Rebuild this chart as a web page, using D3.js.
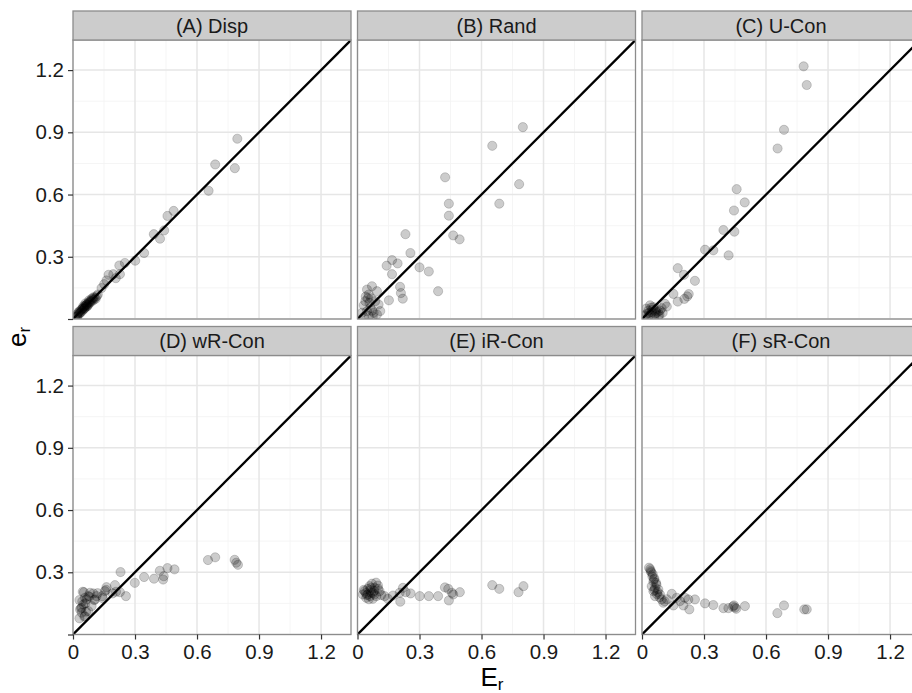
<!DOCTYPE html>
<html><head><meta charset="utf-8">
<script src="https://cdn.jsdelivr.net/npm/d3@7"></script>
<style>body{margin:0;background:#fff}svg{display:block}text{font-family:"Liberation Sans",Arial,sans-serif}</style>
</head><body><div id="chart"></div>
<script>
const panelTitles = ["(A) Disp","(B) Rand","(C) U-Con","(D) wR-Con","(E) iR-Con","(F) sR-Con"];
const majorTicks = [0, 0.3, 0.6, 0.9, 1.2];
const minorTicks = [0.15, 0.45, 0.75, 1.05];
const xTickLabels = ["0","0.3","0.6","0.9","1.2"];
const yTickLabels = ["","0.3","0.6","0.9","1.2"];

// [E_r, e_r]
const dispPoints = [[0.795,0.869],[0.688,0.745],[0.783,0.727],[0.656,0.618],[0.487,0.521],[0.457,0.497],[0.391,0.409],[0.441,0.427],[0.421,0.387],[0.344,0.318],[0.301,0.281],[0.251,0.270],[0.224,0.258],[0.227,0.216],[0.195,0.216],[0.207,0.197],[0.172,0.213],[0.162,0.186],[0.151,0.168],[0.138,0.149],
[0.012,0.010],[0.018,0.020],[0.022,0.015],[0.025,0.028],[0.030,0.025],[0.033,0.036],[0.038,0.032],[0.040,0.045],[0.045,0.040],[0.048,0.052],[0.052,0.047],[0.055,0.060],[0.058,0.055],[0.062,0.066],[0.065,0.060],[0.068,0.072],[0.072,0.068],[0.075,0.080],[0.080,0.076],[0.085,0.088],[0.090,0.084],[0.095,0.095],[0.100,0.092],[0.105,0.102],[0.110,0.098],[0.060,0.075],[0.050,0.062],[0.078,0.090],[0.115,0.110],[0.120,0.118],
[0.035,0.030],[0.045,0.050],[0.055,0.050],[0.065,0.068],[0.070,0.062],[0.082,0.082],[0.092,0.100],[0.100,0.105],[0.028,0.035],[0.020,0.012]];
const randPoints = [[0.800,0.925],[0.652,0.835],[0.782,0.650],[0.424,0.683],[0.686,0.556],[0.442,0.556],[0.442,0.498],[0.463,0.403],[0.494,0.384],[0.232,0.409],[0.256,0.318],[0.167,0.284],[0.141,0.257],[0.194,0.268],[0.167,0.216],[0.300,0.249],[0.345,0.229],[0.390,0.134],[0.206,0.155],[0.210,0.125],[0.219,0.098],[0.152,0.090],
[0.070,0.158],[0.046,0.142],[0.094,0.134],[0.054,0.118],[0.038,0.086],[0.086,0.086],[0.102,0.070],[0.062,0.054],[0.046,0.038],[0.078,0.030],[0.094,0.022],[0.054,0.014],[0.110,0.038],[0.022,0.030],[0.030,0.066],[0.066,0.100],[0.040,0.108],[0.074,0.012],[0.030,0.010],[0.058,0.078],[0.050,0.100],[0.070,0.040]];
const uconPoints = [[0.782,1.218],[0.797,1.128],[0.687,0.912],[0.656,0.822],[0.458,0.626],[0.497,0.562],[0.445,0.523],[0.394,0.429],[0.447,0.421],[0.305,0.334],[0.345,0.331],[0.419,0.307],[0.173,0.245],[0.203,0.213],[0.256,0.184],[0.152,0.121],[0.173,0.084],[0.205,0.097],[0.226,0.120],[0.219,0.109],
[0.039,0.066],[0.055,0.057],[0.071,0.049],[0.087,0.041],[0.031,0.041],[0.047,0.033],[0.063,0.025],[0.079,0.036],[0.023,0.025],[0.095,0.052],[0.111,0.073],[0.015,0.017],[0.040,0.020],[0.060,0.012],[0.085,0.020],[0.100,0.030],[0.030,0.012],[0.050,0.045],[0.070,0.030],[0.120,0.060],[0.020,0.050],[0.045,0.055],[0.065,0.040],[0.080,0.015],[0.035,0.030]];
const wrconPoints = [[0.653,0.359],[0.688,0.372],[0.782,0.360],[0.798,0.336],[0.790,0.346],[0.491,0.314],[0.457,0.320],[0.420,0.307],[0.439,0.281],[0.436,0.265],[0.392,0.269],[0.344,0.277],[0.299,0.249],[0.230,0.301],[0.203,0.238],[0.227,0.204],[0.256,0.185],[0.191,0.198],[0.162,0.228],[0.154,0.209],[0.142,0.185],
[0.047,0.206],[0.031,0.166],[0.079,0.182],[0.103,0.166],[0.039,0.126],[0.063,0.110],[0.031,0.078],[0.055,0.086],[0.119,0.199],[0.160,0.215],[0.208,0.206],[0.144,0.175],[0.053,0.204],[0.082,0.201],[0.098,0.198],[0.066,0.169],[0.050,0.145],[0.034,0.121],[0.042,0.105],[0.058,0.088],[0.074,0.113],[0.090,0.137],[0.114,0.185],[0.042,0.129],[0.058,0.177],[0.106,0.169],[0.074,0.185],[0.060,0.150],[0.045,0.160]];
const irconPoints = [[0.652,0.238],[0.686,0.220],[0.803,0.233],[0.779,0.204],[0.495,0.204],[0.457,0.201],[0.439,0.220],[0.423,0.227],[0.463,0.193],[0.442,0.164],[0.390,0.185],[0.345,0.185],[0.301,0.185],[0.257,0.198],[0.220,0.225],[0.204,0.201],[0.207,0.158],[0.172,0.188],[0.147,0.172],[0.131,0.185],[0.233,0.204],
[0.034,0.209],[0.050,0.193],[0.066,0.201],[0.083,0.225],[0.099,0.236],[0.058,0.233],[0.042,0.177],[0.074,0.172],[0.091,0.185],[0.026,0.193],[0.062,0.214],[0.107,0.209],[0.083,0.193],[0.050,0.220],[0.070,0.245],[0.090,0.250],[0.040,0.200],[0.060,0.185],[0.080,0.210],[0.100,0.220],[0.055,0.170],[0.030,0.215],[0.115,0.190],[0.045,0.190],[0.065,0.225],[0.075,0.200]];
const srconPoints = [[0.034,0.322],[0.042,0.306],[0.052,0.290],[0.058,0.265],[0.068,0.249],[0.047,0.233],[0.063,0.225],[0.079,0.217],[0.055,0.209],[0.087,0.193],[0.095,0.169],[0.103,0.153],[0.063,0.185],[0.144,0.196],[0.168,0.177],[0.152,0.140],[0.184,0.161],[0.208,0.177],[0.224,0.169],[0.256,0.169],[0.200,0.140],[0.229,0.121],[0.305,0.150],[0.345,0.142],[0.394,0.127],[0.418,0.127],[0.445,0.140],[0.456,0.124],[0.498,0.137],[0.687,0.140],[0.655,0.103],[0.785,0.121],[0.797,0.121],
[0.040,0.315],[0.045,0.300],[0.050,0.280],[0.060,0.270],[0.055,0.255],[0.070,0.240],[0.060,0.215],[0.075,0.205],[0.085,0.180],[0.110,0.160],[0.072,0.195],[0.120,0.170],[0.440,0.135],[0.450,0.130]];

const panelData = [dispPoints, randPoints, uconPoints, wrconPoints, irconPoints, srconPoints];

const W = 912, H = 693;
const colX = [73, 357.5, 642];
const stripTop = [11, 326.5];
const stripH = 29, pw = 278, ph = 279;
const maxV = 1.345;

const svg = d3.select("#chart").append("svg").attr("width", W).attr("height", H);
const x = d3.scaleLinear().domain([0, maxV]).range([0, pw]);
const y = d3.scaleLinear().domain([0, maxV]).range([ph, 0]);

svg.append("defs").append("clipPath").attr("id","pclip")
  .append("rect").attr("x",0).attr("y",0).attr("width",pw).attr("height",ph);

panelData.forEach((pts, i) => {
  const r = Math.floor(i / 3), c = i % 3;
  const top = stripTop[r] + stripH;
  const g = svg.append("g").attr("transform", `translate(${colX[c]},${top})`);
  g.append("rect").attr("width", pw).attr("height", ph).attr("fill", "#fff");
  g.selectAll(".minx").data(minorTicks).join("line")
    .attr("x1", d => x(d)).attr("x2", d => x(d)).attr("y1", 0).attr("y2", ph)
    .attr("stroke", "#f4f4f4").attr("stroke-width", 0.9);
  g.selectAll(".miny").data(minorTicks).join("line")
    .attr("y1", d => y(d)).attr("y2", d => y(d)).attr("x1", 0).attr("x2", pw)
    .attr("stroke", "#f4f4f4").attr("stroke-width", 0.9);
  g.selectAll(".majx").data(majorTicks).join("line")
    .attr("x1", d => x(d)).attr("x2", d => x(d)).attr("y1", 0).attr("y2", ph)
    .attr("stroke", "#e6e6e6").attr("stroke-width", 1.5);
  g.selectAll(".majy").data(majorTicks).join("line")
    .attr("y1", d => y(d)).attr("y2", d => y(d)).attr("x1", 0).attr("x2", pw)
    .attr("stroke", "#e6e6e6").attr("stroke-width", 1.5);
  const inner = g.append("g").attr("clip-path", "url(#pclip)");
  inner.selectAll("circle").data(pts).join("circle")
    .attr("cx", d => x(d[0])).attr("cy", d => y(d[1])).attr("r", 4.6)
    .attr("fill", "#000").attr("fill-opacity", 0.2)
    .attr("stroke", "#000").attr("stroke-opacity", 0.22).attr("stroke-width", 0.8);
  inner.append("line").attr("x1", x(0)).attr("y1", y(0)).attr("x2", x(maxV)).attr("y2", y(maxV))
    .attr("stroke", "#000").attr("stroke-width", 2.3);
  g.append("rect").attr("width", pw).attr("height", ph).attr("fill", "none")
    .attr("stroke", "#8c8c8c").attr("stroke-width", 1.3);
  // strip
  const s = svg.append("g").attr("transform", `translate(${colX[c]},${stripTop[r]})`);
  s.append("rect").attr("width", pw).attr("height", stripH).attr("fill", "#cccccc")
    .attr("stroke", "#8c8c8c").attr("stroke-width", 1.3);
  s.append("text").attr("x", pw / 2).attr("y", stripH / 2 + 7).attr("text-anchor", "middle")
    .attr("font-size", 20).attr("fill", "#1a1a1a").text(panelTitles[i]);

  if (c === 0) {
    const ax = g.append("g").call(d3.axisLeft(y).tickValues(majorTicks).tickSize(5).tickPadding(4)
      .tickFormat((d, k) => yTickLabels[k]));
    ax.select(".domain").remove();
    ax.selectAll("line").attr("stroke", "#333").attr("stroke-width", 1.2);
    ax.selectAll("text").attr("font-size", 20.5).attr("fill", "#1a1a1a").attr("font-family", "Liberation Sans, Arial, sans-serif");
  }
  if (r === 1) {
    const ax = g.append("g").attr("transform", `translate(0,${ph})`)
      .call(d3.axisBottom(x).tickValues(majorTicks).tickSize(5).tickPadding(5)
      .tickFormat((d, k) => xTickLabels[k]));
    ax.select(".domain").remove();
    ax.selectAll("line").attr("stroke", "#333").attr("stroke-width", 1.2);
    ax.selectAll("text").attr("font-size", 20.5).attr("fill", "#1a1a1a").attr("font-family", "Liberation Sans, Arial, sans-serif");
  }
});

// axis titles
const xt = svg.append("text").attr("x", 492).attr("y", 686).attr("text-anchor", "middle")
  .attr("font-size", 26).attr("fill", "#000");
xt.append("tspan").text("E");
xt.append("tspan").attr("font-size", 17).attr("dy", 4).text("r");

const yt = svg.append("text").attr("transform", "translate(26,337) rotate(-90)").attr("text-anchor", "middle")
  .attr("font-size", 26).attr("fill", "#000");
yt.append("tspan").text("e");
yt.append("tspan").attr("font-size", 17).attr("dy", 4).text("r");
</script></body></html>
